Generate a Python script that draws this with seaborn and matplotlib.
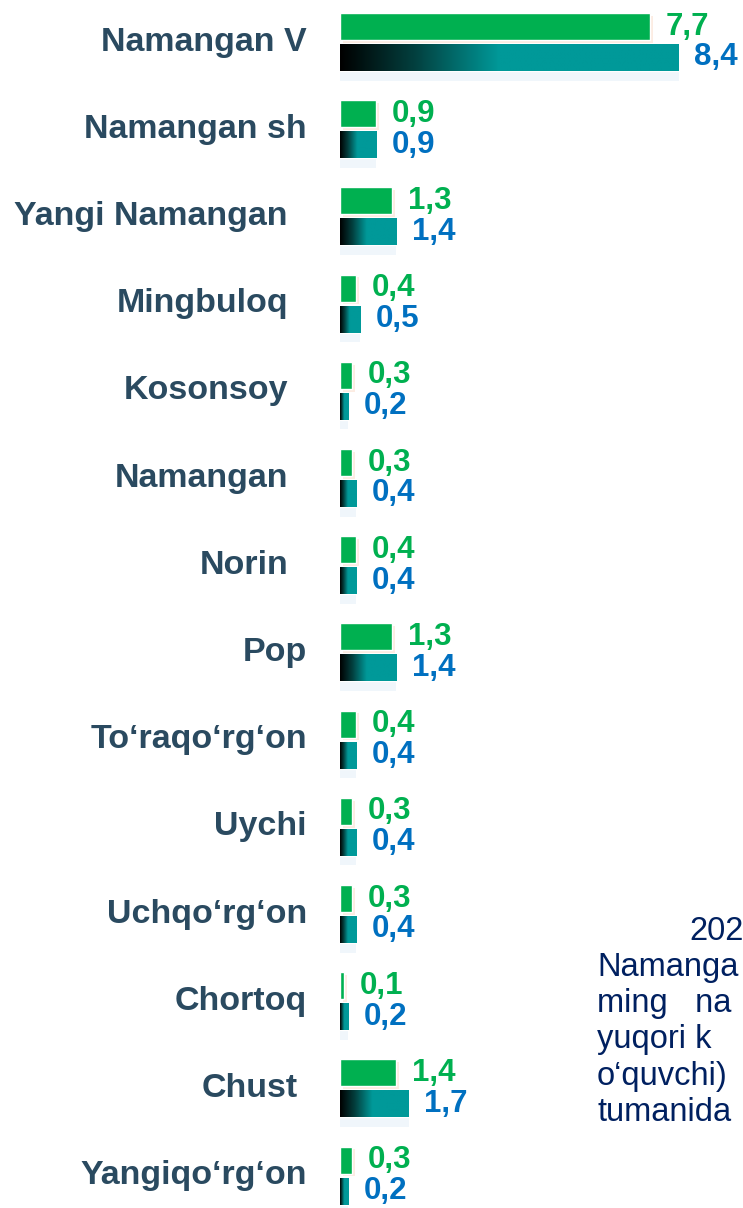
import numpy as np
import pandas as pd
import seaborn as sns
import matplotlib.pyplot as plt
import matplotlib.patheffects as pe
from matplotlib.colors import LinearSegmentedColormap
from matplotlib.transforms import blended_transform_factory

districts = ["Namangan V", "Namangan sh", "Yangi Namangan", "Mingbuloq", "Kosonsoy",
             "Namangan", "Norin", "Pop", "To‘raqo‘rg‘on", "Uychi", "Uchqo‘rg‘on",
             "Chortoq", "Chust", "Yangiqo‘rg‘on"]
prev_year = [7.7, 0.9, 1.3, 0.4, 0.3, 0.3, 0.4, 1.3, 0.4, 0.3, 0.3, 0.1, 1.4, 0.3]
this_year = [8.4, 0.9, 1.4, 0.5, 0.2, 0.4, 0.4, 1.4, 0.4, 0.4, 0.4, 0.2, 1.7, 0.2]
# paragraph at the lower right, only the part left of the slide edge is visible
note_lines = ["202", "Namanga", "ming   na", "yuqori k", "o‘quvchi)", "tumanida"]

# right edge of the district names (px), the source uses uneven padding
label_right = [307, 307, 288, 288, 288, 288, 288, 307, 307, 307, 307, 307, 298, 307]

df = pd.concat([
    pd.DataFrame({"district": districts, "value": prev_year, "series": "a"}),
    pd.DataFrame({"district": districts, "value": this_year, "series": "b"}),
])

sns.set_style("white")
plt.rcParams["font.family"] = ["Liberation Sans", "DejaVu Sans"]

W, H = 743, 1208
fig = plt.figure(figsize=(W / 100, H / 100), dpi=100)
ax = fig.add_axes([340 / W, 0, 1 - 340 / W, 1])

green = "#00B050"
teal = "#009999"
sns.barplot(data=df, y="district", x="value", hue="series", orient="h",
            palette=[green, teal], saturation=1, width=0.71, gap=0.13,
            legend=False, ax=ax)

cmap = LinearSegmentedColormap.from_list("tealfade", [(0, "#000000"), (0.22, "#03403F"),
                                                      (0.47, teal), (1, teal)])
grad = np.linspace(0, 1, 256).reshape(1, -1)

for p in ax.containers[0]:
    p.set_path_effects([pe.SimplePatchShadow(offset=(2, -2), shadow_rgbFace="#F8CBAD", alpha=0.35),
                        pe.Normal()])
for p in ax.containers[1]:
    x, y, w, h = p.get_x(), p.get_y(), p.get_width(), p.get_height()
    p.set_path_effects([pe.SimplePatchShadow(offset=(0, -7), shadow_rgbFace="#E3EEF8", alpha=0.5),
                        pe.Normal()])
    p.set_facecolor("none")
    im = ax.imshow(grad, cmap=cmap, aspect="auto", extent=[x, x + w, y + h, y],
                   interpolation="bilinear", zorder=3)
    im.set_clip_path(p)

for cont, color in [(ax.containers[0], green), (ax.containers[1], "#0070C0")]:
    for p in cont:
        v = p.get_width()
        ax.annotate(f"{v:.1f}".replace(".", ","), (v, p.get_y() + p.get_height() / 2),
                    xytext=(11, 0), textcoords="offset points", va="center", ha="left",
                    fontsize=22.5, fontweight="bold", color=color)

ax.set_xlim(0, (W - 340) / 40.3)
ax.set_ylim((H - 42) / 87.2, -42 / 87.2)
ax.set_yticks([])
ax.set_xticks([])
ax.set_xlabel("")
ax.set_ylabel("")
for s in ax.spines.values():
    s.set_visible(False)

tr = blended_transform_factory(fig.transFigure, ax.transData)
for i, name in enumerate(districts):
    ax.text(label_right[i] / W, i, name, transform=tr, ha="right", va="center",
            fontsize=24.5, fontweight="bold", color="#2A4A60")

for j, line in enumerate(note_lines):
    x0 = 689 if j == 0 else 597
    fig.text(x0 / W, 1 - (931 + 36.3 * j) / H, line, ha="left", va="center",
             fontsize=23.5, color="#002060")

fig.savefig("out.png", dpi=100)
